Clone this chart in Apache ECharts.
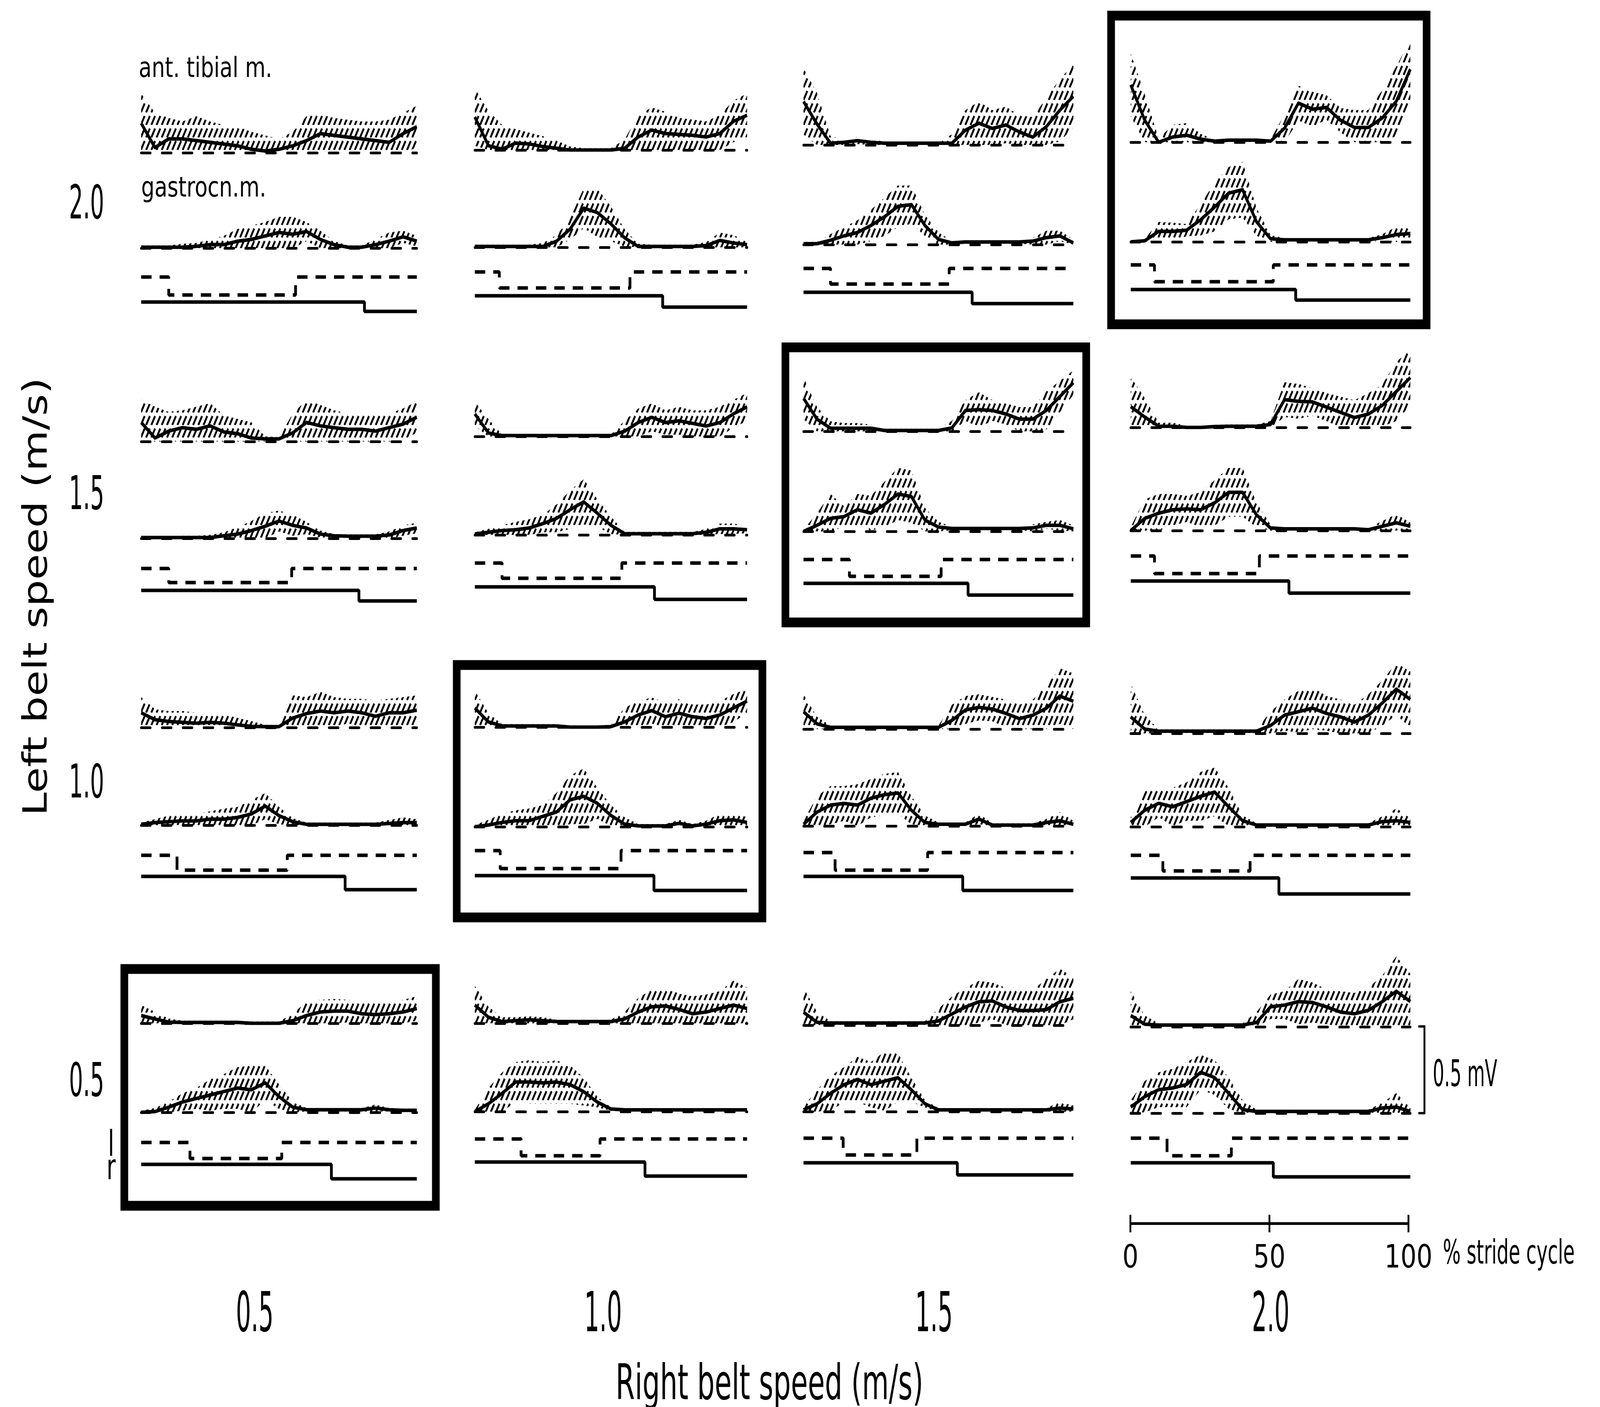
<!DOCTYPE html>
<html><head><meta charset="utf-8">
<script src="https://cdn.jsdelivr.net/npm/echarts@6/dist/echarts.min.js"></script>
<style>html,body{margin:0;padding:0;background:#fff;overflow:hidden}#wrap{width:5213px;height:3601px;transform-origin:0 0}#c{width:5213px;height:3601px}</style>
</head><body><div id="wrap"><div id="c"></div></div>
<script>
// ---------------- DATA ----------------
const pct = [0,5,10,15,20,25,30,35,40,45,50,55,60,65,70,75,80,85,90,95,100];
const leftSpeeds  = ['2.0','1.5','1.0','0.5'];   // rows (top→bottom)
const rightSpeeds = ['0.5','1.0','1.5','2.0'];   // columns (left→right)

// stance timing (% stride), panels row-major (L2.0 R0.5 … L0.5 R2.0)
const leftToeOff     = [10, 9, 10, 8.5,   10, 10, 17, 8.5,   13, 9.3, 11.7, 11.5,   17.7, 17, 14.7, 13];
const leftHeelStrike = [56, 57, 54, 51,   54.6, 54, 51, 46,  53, 53.7, 46, 42.7,    51, 46, 42, 36];
const rightToeOff    = [81, 69, 62.5, 59, 79, 66, 61, 56.6,  74, 65.8, 59, 53,      69, 62.5, 57, 51];

// EMG (mV): mean and spread, 0..100 % in 5 % steps
const ta_L20_R05 = [0.17,0.03,0.08,0.08,0.07,0.06,0.05,0.04,0.02,0.01,0.02,0.04,0.07,0.11,0.10,0.09,0.08,0.07,0.06,0.11,0.15];
const taSd_L20_R05 = [0.17,0.20,0.12,0.10,0.14,0.12,0.11,0.11,0.10,0.09,0.06,0.08,0.14,0.11,0.10,0.10,0.10,0.11,0.13,0.12,0.12];
const gc_L20_R05 = [0.005,0.005,0.005,0.005,0.01,0.02,0.02,0.04,0.05,0.07,0.09,0.08,0.095,0.05,0.02,0.005,0.005,0.02,0.04,0.065,0.04];
const gcSd_L20_R05 = [0.01,0.01,0.01,0.02,0.02,0.03,0.05,0.07,0.08,0.08,0.09,0.10,0.055,0.05,0.02,0.01,0.01,0.03,0.05,0.035,0.03];

const ta_L20_R10 = [0.19,0.025,0.005,0.04,0.035,0.02,0.01,0,0,0,0,0.01,0.075,0.115,0.095,0.09,0.085,0.075,0.095,0.165,0.20];
const taSd_L20_R10 = [0.165,0.2,0.14,0.08,0.065,0.06,0.045,0.02,0.01,0.01,0.01,0.05,0.125,0.13,0.125,0.095,0.09,0.09,0.105,0.12,0.125];
const gc_L20_R10 = [0.005,0.005,0.005,0.005,0.005,0.005,0.035,0.105,0.225,0.2,0.135,0.055,0.005,0.005,0.005,0.005,0.005,0.01,0.04,0.025,0.015];
const gcSd_L20_R10 = [0.01,0.01,0.01,0.01,0.01,0.02,0.035,0.06,0.115,0.14,0.1,0.05,0.015,0.01,0.01,0.01,0.01,0.02,0.045,0.045,0.02];

const ta_L20_R15 = [0.25,0.12,0.01,0.015,0.025,0.015,0.01,0.01,0.01,0.01,0.01,0.01,0.085,0.125,0.095,0.115,0.075,0.045,0.105,0.2,0.28];
const taSd_L20_R15 = [0.19,0.18,0.04,0.02,0.02,0.02,0.01,0.01,0.01,0.01,0.01,0.05,0.115,0.125,0.105,0.105,0.095,0.115,0.165,0.18,0.18];
const gc_L20_R15 = [0.005,0.005,0.025,0.05,0.07,0.11,0.16,0.22,0.23,0.11,0.03,0.01,0.015,0.015,0.015,0.015,0.015,0.02,0.04,0.05,0.01];
const gcSd_L20_R15 = [0.01,0.01,0.035,0.05,0.07,0.09,0.11,0.12,0.11,0.06,0.04,0.01,0.01,0.01,0.01,0.01,0.01,0.02,0.04,0.03,0.02];

const ta_L20_R20 = [0.33,0.127,0.0,0.03,0.04,0.018,0.006,0.012,0.012,0.012,0.006,0.08,0.225,0.19,0.2,0.127,0.085,0.085,0.14,0.236,0.42];
const taSd_L20_R20 = [0.18,0.15,0.02,0.07,0.07,0.03,0.01,0.01,0.01,0.01,0.01,0.08,0.1,0.1,0.07,0.07,0.1,0.1,0.16,0.2,0.17];
const gc_L20_R20 = [0.0,0.006,0.06,0.06,0.067,0.127,0.2,0.28,0.3,0.115,0.018,0.012,0.012,0.012,0.012,0.012,0.012,0.012,0.024,0.042,0.048];
const gcSd_L20_R20 = [0.01,0.01,0.055,0.05,0.035,0.09,0.14,0.15,0.16,0.08,0.02,0.01,0.01,0.01,0.01,0.01,0.01,0.01,0.02,0.045,0.03];

const ta_L15_R05 = [0.11,0.02,0.06,0.08,0.07,0.09,0.055,0.045,0.02,0.015,0.015,0.05,0.11,0.09,0.08,0.07,0.07,0.06,0.08,0.10,0.14];
const taSd_L15_R05 = [0.13,0.18,0.11,0.10,0.13,0.13,0.095,0.085,0.09,0.015,0.01,0.11,0.13,0.12,0.10,0.09,0.08,0.09,0.08,0.09,0.09];
const gc_L15_R05 = [0.005,0.005,0.005,0.005,0.005,0.005,0.015,0.025,0.045,0.07,0.1,0.075,0.06,0.025,0.015,0.013,0.013,0.013,0.02,0.045,0.06];
const gcSd_L15_R05 = [0.005,0.005,0.005,0.01,0.01,0.015,0.02,0.04,0.055,0.075,0.06,0.06,0.035,0.02,0.01,0.01,0.01,0.01,0.02,0.03,0.03];

const ta_L15_R10 = [0.13,0.02,0.005,0.005,0.005,0.005,0.005,0.005,0.005,0.005,0.005,0.03,0.08,0.11,0.08,0.09,0.075,0.06,0.08,0.13,0.17];
const taSd_L15_R10 = [0.07,0.08,0.005,0.005,0.005,0.005,0.005,0.005,0.005,0.005,0.005,0.06,0.08,0.08,0.07,0.08,0.075,0.09,0.09,0.08,0.08];
const gc_L15_R10 = [0.005,0.015,0.025,0.03,0.04,0.065,0.095,0.145,0.19,0.125,0.055,0.007,0.007,0.007,0.007,0.007,0.007,0.015,0.035,0.035,0.03];
const gcSd_L15_R10 = [0.01,0.02,0.03,0.045,0.05,0.05,0.08,0.11,0.13,0.08,0.05,0.01,0.01,0.01,0.01,0.01,0.01,0.02,0.03,0.03,0.02];

const ta_L15_R15 = [0.19,0.07,0.018,0.018,0.018,0.018,0.005,0.005,0.005,0.005,0.005,0.02,0.12,0.125,0.12,0.10,0.07,0.07,0.12,0.20,0.28];
const taSd_L15_R15 = [0.12,0.07,0.04,0.03,0.03,0.02,0.01,0.01,0.01,0.01,0.01,0.04,0.06,0.1,0.06,0.06,0.07,0.07,0.11,0.09,0.07];
const gc_L15_R15 = [0.0,0.035,0.075,0.085,0.125,0.105,0.155,0.215,0.2,0.065,0.025,0.017,0.017,0.017,0.017,0.017,0.017,0.02,0.035,0.035,0.015];
const gcSd_L15_R15 = [0.01,0.07,0.14,0.06,0.09,0.1,0.13,0.15,0.15,0.07,0.03,0.01,0.01,0.01,0.01,0.01,0.01,0.02,0.02,0.03,0.02];

const ta_L15_R20 = [0.12,0.06,0.007,0.007,0.0,0.0,0.005,0.007,0.007,0.007,0.017,0.16,0.15,0.147,0.117,0.087,0.057,0.077,0.127,0.207,0.287];
const taSd_L15_R20 = [0.17,0.11,0.02,0.02,0.01,0.01,0.01,0.01,0.01,0.01,0.02,0.1,0.1,0.08,0.08,0.09,0.1,0.12,0.12,0.17,0.16];
const gc_L15_R20 = [0.0,0.07,0.1,0.12,0.125,0.12,0.16,0.22,0.22,0.09,0.015,0.01,0.01,0.01,0.01,0.01,0.01,0.005,0.025,0.045,0.025];
const gcSd_L15_R20 = [0.02,0.11,0.11,0.09,0.075,0.1,0.13,0.14,0.14,0.07,0.02,0.01,0.01,0.01,0.01,0.01,0.01,0.01,0.03,0.05,0.02];

const ta_L10_R05 = [0.085,0.045,0.035,0.03,0.025,0.03,0.025,0.015,0.007,0.005,0.005,0.055,0.08,0.095,0.085,0.095,0.085,0.065,0.085,0.085,0.1];
const taSd_L10_R05 = [0.09,0.06,0.06,0.065,0.06,0.055,0.05,0.04,0.03,0.01,0.01,0.13,0.095,0.11,0.09,0.07,0.08,0.09,0.08,0.09,0.085];
const gc_L10_R05 = [0.005,0.015,0.02,0.025,0.025,0.035,0.035,0.045,0.065,0.11,0.055,0.02,0.005,0.005,0.005,0.005,0.005,0.005,0.01,0.015,0.015];
const gcSd_L10_R05 = [0.01,0.02,0.035,0.04,0.04,0.045,0.06,0.06,0.08,0.075,0.05,0.02,0.01,0.01,0.01,0.01,0.01,0.01,0.02,0.03,0.02];

const ta_L10_R10 = [0.11,0.03,0.007,0.007,0.007,0.007,0.007,0,0,0,0.003,0.03,0.07,0.095,0.06,0.08,0.06,0.05,0.07,0.11,0.15];
const taSd_L10_R10 = [0.1,0.05,0.01,0.01,0.01,0.01,0.01,0.01,0.01,0.01,0.01,0.08,0.08,0.075,0.08,0.08,0.07,0.08,0.08,0.08,0.07];
const gc_L10_R10 = [0.0,0.01,0.025,0.035,0.035,0.06,0.085,0.155,0.175,0.135,0.065,0.015,0.005,0.005,0.005,0.02,0.005,0.015,0.035,0.04,0.025];
const gcSd_L10_R10 = [0.01,0.03,0.05,0.06,0.07,0.065,0.11,0.14,0.16,0.09,0.06,0.04,0.01,0.01,0.01,0.02,0.01,0.02,0.04,0.04,0.03];

const ta_L10_R15 = [0.1,0.03,0.01,0.01,0.01,0.01,0.01,0.01,0.01,0.01,0.01,0.05,0.11,0.125,0.115,0.09,0.06,0.08,0.12,0.19,0.16];
const taSd_L10_R15 = [0.1,0.04,0.01,0.01,0.01,0.01,0.01,0.01,0.01,0.01,0.01,0.09,0.08,0.075,0.07,0.08,0.08,0.09,0.13,0.16,0.16];
const gc_L10_R15 = [0.01,0.08,0.12,0.13,0.12,0.16,0.18,0.19,0.09,0.02,0.01,0.01,0.01,0.04,0.005,0.005,0.005,0.005,0.02,0.03,0.01];
const gcSd_L10_R15 = [0.02,0.09,0.11,0.1,0.12,0.11,0.12,0.12,0.08,0.04,0.01,0.01,0.01,0.03,0.01,0.01,0.01,0.01,0.02,0.05,0.02];

const ta_L10_R20 = [0.095,0.025,0.013,0.013,0.013,0.013,0.013,0.013,0.013,0.013,0.045,0.105,0.125,0.145,0.115,0.095,0.065,0.105,0.175,0.255,0.195];
const taSd_L10_R20 = [0.19,0.08,0.01,0.01,0.01,0.01,0.01,0.01,0.01,0.01,0.08,0.09,0.12,0.12,0.1,0.1,0.1,0.12,0.13,0.15,0.16];
const gc_L10_R20 = [0.025,0.095,0.135,0.115,0.145,0.175,0.2,0.115,0.035,0.01,0.01,0.01,0.01,0.01,0.01,0.01,0.01,0.01,0.03,0.035,0.025];
const gcSd_L10_R20 = [0.03,0.11,0.08,0.11,0.11,0.14,0.14,0.11,0.03,0.01,0.01,0.01,0.01,0.01,0.01,0.01,0.01,0.01,0.03,0.07,0.03];

const ta_L05_R05 = [0.045,0.025,0.007,0.005,0.005,0.005,0.005,0.005,0,0,0,0.015,0.045,0.065,0.07,0.07,0.055,0.05,0.055,0.065,0.085];
const taSd_L05_R05 = [0.06,0.04,0.02,0.01,0.01,0.01,0.01,0.01,0.01,0.01,0.01,0.04,0.08,0.07,0.07,0.065,0.07,0.075,0.07,0.07,0.07];
const gc_L05_R05 = [0.0,0.005,0.03,0.06,0.08,0.1,0.12,0.14,0.13,0.17,0.09,0.03,0.015,0.015,0.015,0.015,0.015,0.025,0.015,0.012,0.012];
const gcSd_L05_R05 = [0.01,0.02,0.03,0.05,0.06,0.09,0.1,0.12,0.14,0.1,0.07,0.03,0.01,0.01,0.01,0.01,0.01,0.02,0.01,0.01,0.01];

const ta_L05_R10 = [0.105,0.035,0.01,0.015,0.02,0.015,0.01,0.01,0.01,0.01,0.01,0.025,0.065,0.095,0.1,0.08,0.055,0.065,0.085,0.105,0.085];
const taSd_L05_R10 = [0.11,0.06,0.025,0.02,0.02,0.02,0.01,0.01,0.01,0.01,0.01,0.04,0.08,0.1,0.105,0.09,0.1,0.1,0.1,0.14,0.12];
const gc_L05_R10 = [0.0,0.045,0.105,0.17,0.17,0.165,0.17,0.155,0.115,0.055,0.015,0.01,0.01,0.01,0.01,0.01,0.01,0.01,0.01,0.01,0.01];
const gcSd_L05_R10 = [0.01,0.09,0.12,0.115,0.125,0.12,0.125,0.11,0.08,0.03,0.01,0.01,0.01,0.01,0.01,0.01,0.01,0.01,0.01,0.01,0.01];

const ta_L05_R15 = [0.075,0.017,0.013,0.013,0.013,0.013,0.013,0.013,0.013,0.013,0.025,0.065,0.105,0.135,0.14,0.105,0.085,0.085,0.09,0.135,0.155];
const taSd_L05_R15 = [0.14,0.06,0.01,0.01,0.01,0.01,0.01,0.01,0.01,0.01,0.07,0.1,0.11,0.12,0.105,0.11,0.11,0.12,0.175,0.19,0.12];
const gc_L05_R15 = [0.01,0.045,0.105,0.155,0.185,0.155,0.175,0.195,0.125,0.045,0.01,0.01,0.01,0.01,0.01,0.01,0.01,0.01,0.01,0.02,0.015];
const gcSd_L05_R15 = [0.02,0.08,0.1,0.1,0.13,0.13,0.17,0.14,0.07,0.02,0.01,0.01,0.01,0.01,0.01,0.01,0.01,0.01,0.01,0.035,0.02];

const ta_L05_R20 = [0.065,0.015,0.01,0.01,0.01,0.01,0.01,0.01,0.01,0.025,0.115,0.125,0.145,0.14,0.115,0.085,0.075,0.095,0.145,0.205,0.145];
const taSd_L05_R20 = [0.14,0.05,0.01,0.01,0.01,0.01,0.01,0.01,0.01,0.06,0.07,0.08,0.13,0.115,0.1,0.12,0.12,0.13,0.15,0.2,0.16];
const gc_L05_R20 = [0.035,0.095,0.135,0.145,0.165,0.235,0.205,0.115,0.02,0.01,0.01,0.01,0.01,0.01,0.01,0.01,0.01,0.01,0.03,0.035,0.01];
const gcSd_L05_R20 = [0.04,0.09,0.1,0.11,0.13,0.1,0.1,0.09,0.055,0.01,0.01,0.01,0.01,0.01,0.01,0.01,0.01,0.01,0.03,0.08,0.02];

// lookup tables built from the named arrays (row-major)
const taMean = [ta_L20_R05,ta_L20_R10,ta_L20_R15,ta_L20_R20, ta_L15_R05,ta_L15_R10,ta_L15_R15,ta_L15_R20,
                ta_L10_R05,ta_L10_R10,ta_L10_R15,ta_L10_R20, ta_L05_R05,ta_L05_R10,ta_L05_R15,ta_L05_R20];
const taSd = [taSd_L20_R05,taSd_L20_R10,taSd_L20_R15,taSd_L20_R20, taSd_L15_R05,taSd_L15_R10,taSd_L15_R15,taSd_L15_R20,
              taSd_L10_R05,taSd_L10_R10,taSd_L10_R15,taSd_L10_R20, taSd_L05_R05,taSd_L05_R10,taSd_L05_R15,taSd_L05_R20];
const gcMean = [gc_L20_R05,gc_L20_R10,gc_L20_R15,gc_L20_R20, gc_L15_R05,gc_L15_R10,gc_L15_R15,gc_L15_R20,
                gc_L10_R05,gc_L10_R10,gc_L10_R15,gc_L10_R20, gc_L05_R05,gc_L05_R10,gc_L05_R15,gc_L05_R20];
const gcSd = [gcSd_L20_R05,gcSd_L20_R10,gcSd_L20_R15,gcSd_L20_R20, gcSd_L15_R05,gcSd_L15_R10,gcSd_L15_R15,gcSd_L15_R20,
              gcSd_L10_R05,gcSd_L10_R10,gcSd_L10_R15,gcSd_L10_R20, gcSd_L05_R05,gcSd_L05_R10,gcSd_L05_R15,gcSd_L05_R20];

// ---------------- LAYOUT ----------------
const W = 5213, H = 3601;
const FONT = "'DejaVu Sans','Liberation Sans',sans-serif";
const PX_PER_MV = 445;
const EMG_MAX = 0.7;
const COLS = [[460,1358],[1547,2434],[2618,3497],[3684,4595]];
// per row, per column: [taBase, gcBase, leftHigh, leftLow, rightHigh, rightLow]
const PANEL_Y = [
 [[391,635,709,755,773,797],[384,633,696,737,757,786],[371,626,687,727,748,777],[364,619,678,721,741,768]],
 [[1130,1378,1455,1491,1511,1538],[1117,1369,1441,1480,1502,1534],[1104,1360,1432,1475,1493,1523],[1094,1358,1423,1468,1487,1518]],
 [[1862,2112,2189,2227,2243,2277],[1861,2116,2177,2223,2241,2279],[1866,2114,2182,2227,2243,2279],[1877,2116,2189,2229,2247,2288]],
 [[2619,2847,2924,2965,2980,3017],[2619,2845,2915,2958,2974,3010],[2624,2845,2913,2956,2976,3007],[2628,2849,2913,2958,2976,3012]]
];
const BOXES = [[3620,40,4648,830],[2559,889,3539,1593],[1488,1702,2484,2348],[405,2480,1420,3086]];

// map the 5213×3601 drawing onto the actual viewport
const wrap = document.getElementById('wrap');
const SX = (window.innerWidth || W) / W, SY = (window.innerHeight || H) / H;
wrap.style.transform = 'scale(' + SX + ',' + SY + ')';

// hatch tile for the spread bands
function makeHatch(){
  const w = 17, h = 32, cv = document.createElement('canvas');
  cv.width = w; cv.height = h;
  const g = cv.getContext('2d');
  g.strokeStyle = '#000'; g.lineWidth = 6; g.lineCap = 'butt';
  const d = Math.sqrt(w*w + h*h);
  g.setLineDash([d*0.72, d*0.28]);
  [-w, 0, w].forEach(dx => { g.beginPath(); g.moveTo(dx, h); g.lineTo(dx + w, 0); g.stroke(); });
  return cv;
}
const HATCH = { image: makeHatch(), repeat: 'repeat' };

const grids=[], xAxes=[], yAxes=[], series=[];
function addGrid(g, xa, ya){ grids.push(g); const i=grids.length-1; xa.gridIndex=i; ya.gridIndex=i; xAxes.push(xa); yAxes.push(ya); return i; }

function emgPanel(left, width, base, mean, sd){
  const gi = addGrid({left:left, top:base-EMG_MAX*PX_PER_MV, width:width, height:EMG_MAX*PX_PER_MV},
    {type:'category', data:pct.map(String), boundaryGap:false,
     axisLine:{show:true, lineStyle:{color:'#000', width:7, type:[30,38]}},
     axisTick:{show:false}, axisLabel:{show:false}, splitLine:{show:false}},
    {type:'value', min:0, max:EMG_MAX, show:false, splitLine:{show:false}});
  const lower = mean.map((m,i)=>Math.max(0, m - sd[i]));
  const band = mean.map((m,i)=>m + sd[i] - lower[i]);
  series.push({type:'line', xAxisIndex:gi, yAxisIndex:gi, stack:'band'+gi, data:lower, symbol:'none', silent:true,
    lineStyle:{width:0, color:'rgba(0,0,0,0)'}});
  series.push({type:'line', xAxisIndex:gi, yAxisIndex:gi, stack:'band'+gi, data:band, symbol:'none', silent:true,
    lineStyle:{width:0, color:'rgba(0,0,0,0)'},
    areaStyle:{color:HATCH, opacity:1}});
  series.push({type:'line', xAxisIndex:gi, yAxisIndex:gi, data:mean, symbol:'none', silent:true, z:5,
    lineStyle:{color:'#000', width:9, join:'round'}});
}
function stepPanel(left, width, top, bottom, pts, dashed){
  const gi = addGrid({left:left, top:top, width:width, height:bottom-top},
    {type:'value', min:0, max:100, show:false}, {type:'value', min:0, max:1, show:false});
  series.push({type:'line', xAxisIndex:gi, yAxisIndex:gi, data:pts, step:'end', symbol:'none', clip:false, silent:true,
    lineStyle:{color:'#000', width:9, type: dashed ? [34,26] : 'solid'}});
}

for (let r=0;r<4;r++){
  for (let c=0;c<4;c++){
    const k = r*4+c;
    const [x0,x1] = COLS[c];
    const [taB,gcB,lH,lL,rH,rL] = PANEL_Y[r][c];
    emgPanel(x0, x1-x0, taB, taMean[k], taSd[k]);
    emgPanel(x0, x1-x0, gcB, gcMean[k], gcSd[k]);
    stepPanel(x0, x1-x0, lH, lL, [[0,1],[leftToeOff[k],0],[leftHeelStrike[k],1],[100,1]], true);
    stepPanel(x0, x1-x0, rH, rL, [[0,1],[rightToeOff[k],0],[100,0]], false);
  }
}

// 0.5 mV calibration bar
const calBase = PANEL_Y[3][3][1];
addGrid({left:4641, top:calBase-0.5*PX_PER_MV, width:1, height:0.5*PX_PER_MV},
  {type:'value', min:0, max:1, show:false},
  {type:'value', min:0, max:0.5, interval:0.5, position:'left',
   axisLine:{show:true, lineStyle:{color:'#000', width:6}},
   axisTick:{show:true, length:20, lineStyle:{color:'#000', width:6}},
   axisLabel:{show:false}, splitLine:{show:false}});

// stride-cycle time bar
const TB = {left:3683, width:906, y:3131};
grids.push({left:TB.left, top:TB.y, width:TB.width, height:1});
const tbi = grids.length-1;
xAxes.push({gridIndex:tbi, type:'value', min:0, max:100, interval:50, position:'bottom',
  axisLine:{show:true, onZero:false, lineStyle:{color:'#000', width:6}},
  axisTick:{show:true, length:22, lineStyle:{color:'#000', width:6}},
  axisLabel:{show:true, margin:50, fontSize:82, fontFamily:FONT, color:'#000', formatter:v=>String(v)},
  splitLine:{show:false}});
xAxes.push({gridIndex:tbi, type:'value', min:0, max:100, interval:50, position:'top',
  axisLine:{show:true, onZero:false, lineStyle:{color:'#000', width:6}},
  axisTick:{show:true, length:22, lineStyle:{color:'#000', width:6}},
  axisLabel:{show:false}, splitLine:{show:false}});
yAxes.push({gridIndex:tbi, type:'value', min:0, max:1, show:false});

// ---------------- TEXT / FRAMES ----------------
function txt(text, x, y, size, align, sx, rot){
  return {type:'text', x:x, y:y, rotation:rot||0, scaleX:sx||1, scaleY:1, silent:true, z:10,
    style:{text:text, fill:'#000', fontSize:size, fontFamily:FONT,
      textAlign:align||'center', align:align||'center', textVerticalAlign:'middle', verticalAlign:'middle'}};
}
const graphics = [];
BOXES.forEach(b=>graphics.push({type:'rect', silent:true, z:9,
  shape:{x:b[0], y:b[1], width:b[2]-b[0], height:b[3]-b[1]},
  style:{fill:'none', stroke:'#000', lineWidth:25}}));
graphics.push(txt('ant. tibial m.', 452, 178, 72, 'left', 0.95));
graphics.push(txt('gastrocn.m.', 460, 484, 72, 'left', 0.95));
const rowLabelY = [528,1272,2010,2774];
leftSpeeds.forEach((s,i)=>graphics.push(txt(s, 282, rowLabelY[i], 120, 'center', 0.6)));
const colLabelX = [830,1965,3043,4140];
rightSpeeds.forEach((s,i)=>graphics.push(txt(s, colLabelX[i], 3371, 140, 'center', 0.55)));
graphics.push(txt('Right belt speed (m/s)', 2507, 3549, 125, 'center', 0.72));
graphics.push(txt('Left belt speed (m/s)', 124, 1527, 108, 'center', 1, Math.PI/2));
graphics.push(txt('l', 362, 2935, 90, 'center', 0.8));
graphics.push(txt('r', 362, 2995, 90, 'center', 0.8));
graphics.push(txt('0.5 mV', 4668, 2755, 95, 'left', 0.62));
graphics.push(txt('% stride cycle', TB.left+TB.width+112, 3212, 85, 'left', 0.72));

const chart = echarts.init(document.getElementById('c'), null, {renderer:'canvas', width:W, height:H});
chart.setOption({
  animation:false,
  backgroundColor:'#fff',
  grid:grids, xAxis:xAxes, yAxis:yAxes, series:series, graphic:graphics
});
</script></body></html>
